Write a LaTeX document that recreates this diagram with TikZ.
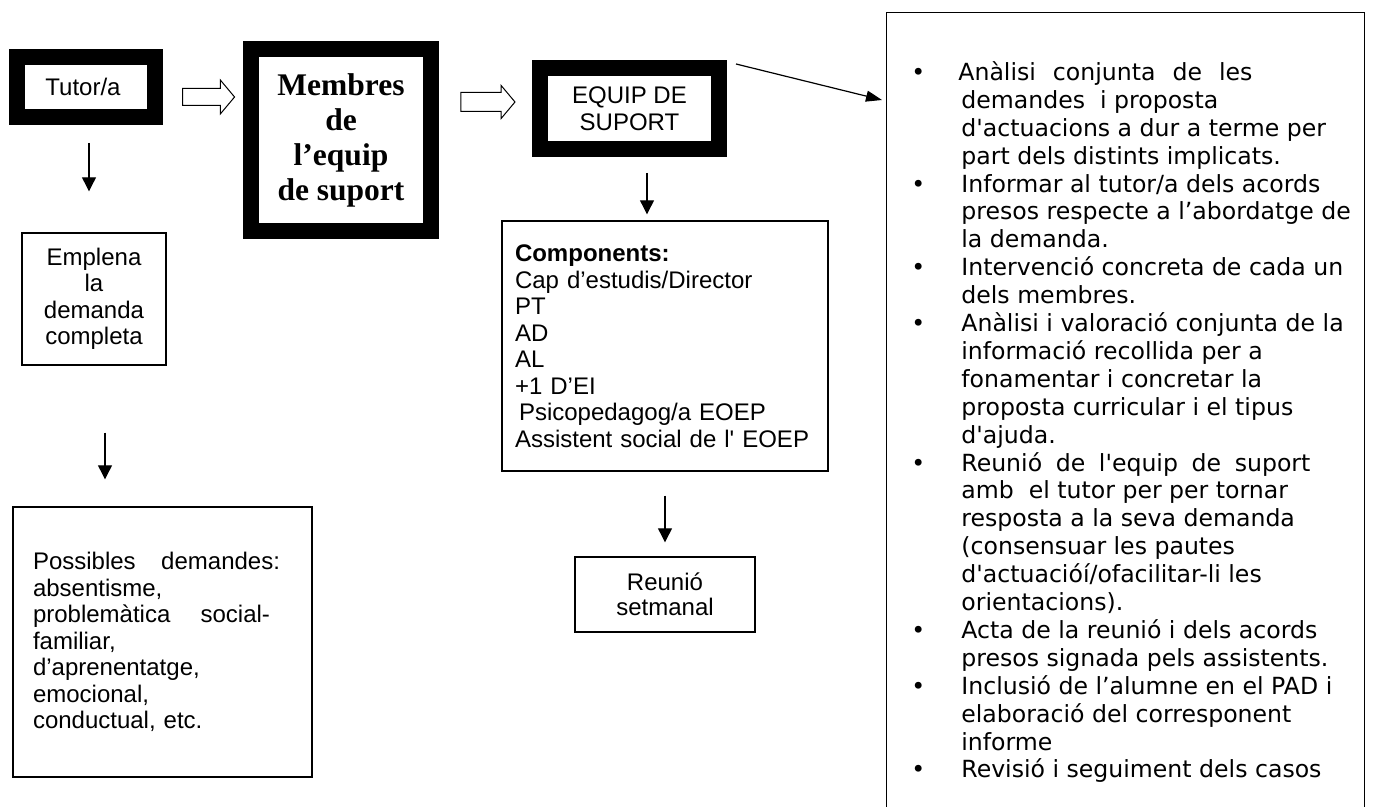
\documentclass[tikz,border=0pt]{standalone}
\usepackage{fontspec}
\setmainfont{Liberation Sans}
\newfontfamily\timesfont{Liberation Serif}
\newfontfamily\verdanafont{DejaVu Sans}
\usetikzlibrary{arrows.meta,shapes.arrows,positioning}
\newcommand{\strq}{\textquotesingle}
\tikzstyle{heavybox} = [rectangle, draw, line width=8pt, inner sep=0pt, align=center]
\tikzstyle{thinbox} = [rectangle, draw, line width=0.7pt, inner sep=0pt]
\tikzstyle{downarrow} = [line width=0.6pt, -{Triangle[length=7pt,width=7pt]}]
\tikzstyle{hollowarrow} = [single arrow, draw, line width=0.5pt, inner sep=4pt, single arrow head extend=4.25pt, single arrow tip angle=100, minimum height=26pt]

\begin{document}
\begin{tikzpicture}[x=0.5pt, y=-0.5pt, font=\fontsize{12}{13.25}\selectfont]
\useasboundingbox (0,0) rectangle (1380,807);
\clip (0,0) rectangle (1380,807);

% top row
\node[heavybox, minimum width=69pt, minimum height=30pt] (tutor) at (86,87) {\hspace*{-3pt}\raisebox{-2pt}{Tutor/a}};
\node[heavybox, minimum width=90pt, minimum height=91pt, font=\timesfont\bfseries\fontsize{15.75}{17.5}\selectfont] (membres) at (341,140) {Membres\\de\\l’equip\\de suport};
\node[heavybox, minimum width=89.5pt, minimum height=40.5pt, font=\fontsize{12}{13.5}\selectfont] (equip) at (629.5,108.5) {EQUIP DE\\SUPORT};

\node[hollowarrow] (blockarrowA) at (205,97) {};
\node[hollowarrow, inner sep=4.5pt, single arrow head extend=3.5pt, minimum height=27pt] (blockarrowB) at (484,102) {};

% left column
\node[thinbox, minimum width=72pt, minimum height=66pt, align=center] (emplena) at (94,299) {Emplena\\la\\demanda\\completa};
\node[thinbox, minimum width=149.5pt, minimum height=135pt, text width=129.5pt, align=left] (demandes) at (162.5,642) {
\makebox[123.5pt][s]{Possibles\hfill demandes:}\\
absentisme,\\
\makebox[118.5pt][s]{problemàtica\hfill social-}\\
familiar,\\
d’aprenentatge,\\
emocional,\\
conductual, etc.};

% middle column
\node[thinbox, minimum width=163pt, minimum height=125pt, text width=150pt, align=left] (components) at (665,346) {\textbf{Components:}\\
Cap d’estudis/Director\\
PT\\
AD\\
AL\\
+1 D’EI\\
\hspace*{2pt}Psicopedagog/a EOEP\\
Assistent social de l\strq\ EOEP};
\node[thinbox, minimum width=90pt, minimum height=37.5pt, align=center, font=\fontsize{12}{12.5}\selectfont] (reunio) at (665,594.5) {Reunió\\setmanal};

% right box
\node[thinbox, minimum width=239pt, minimum height=410pt, anchor=north west] (tasques) at (886,12) {};
\node[anchor=north west, inner sep=0pt, font=\verdanafont\fontsize{11.8}{13.95}\selectfont] (tasklist) at (911,60.5) {%
\begin{tabular}{@{}p{25pt}@{}l@{}}
\textbullet & \hspace*{-1.5pt}\makebox[147pt][s]{Anàlisi conjunta de les}\\
 & demandes\ \ i proposta\\
 & d\strq actuacions a dur a terme per\\
 & part dels distints implicats.\\
\textbullet & Informar al tutor/a dels acords\\
 & presos respecte a l’abordatge de\\
 & la demanda.\\
\textbullet & Intervenció concreta de cada un\\
 & dels membres.\\
\textbullet & Anàlisi i valoració conjunta de la\\
 & informació recollida per a\\
 & fonamentar i concretar la\\
 & proposta curricular i el tipus\\
 & d\strq ajuda.\\
\textbullet & \makebox[174.5pt][s]{Reunió de l\strq equip de suport}\\
 & amb\ \ el tutor per per tornar\\
 & resposta a la seva demanda\\
 & (consensuar les pautes\\
 & d\strq actuacióí/ofacilitar-li les\\
 & orientacions).\\
\textbullet & Acta de la reunió i dels acords\\
 & presos signada pels assistents.\\
\textbullet & Inclusió de l’alumne en el PAD i\\
 & elaboració del corresponent\\
 & informe\\
\textbullet & Revisió i seguiment dels casos
\end{tabular}};

% connectors
\draw[downarrow] ([xshift=1.5pt,yshift=-9pt]tutor.south) -- ([xshift=-2.5pt,yshift=20.5pt]emplena.north);
\draw[downarrow] ([xshift=5.5pt,yshift=-33.5pt]emplena.south) -- ([xshift=-28.75pt,yshift=13.5pt]demandes.north);
\draw[downarrow] ([xshift=8.75pt,yshift=-8pt]equip.south) -- ([xshift=-9pt,yshift=3pt]components.north);
\draw[downarrow] ([yshift=-12pt]components.south) -- ([yshift=7pt]reunio.north);
\draw[line width=0.6pt, -{Triangle[length=8pt,width=5.5pt]}] ([xshift=4.5pt,yshift=-2pt]equip.north east) -- ([xshift=-2pt,yshift=-44pt]tasques.north west);
\end{tikzpicture}
\end{document}
